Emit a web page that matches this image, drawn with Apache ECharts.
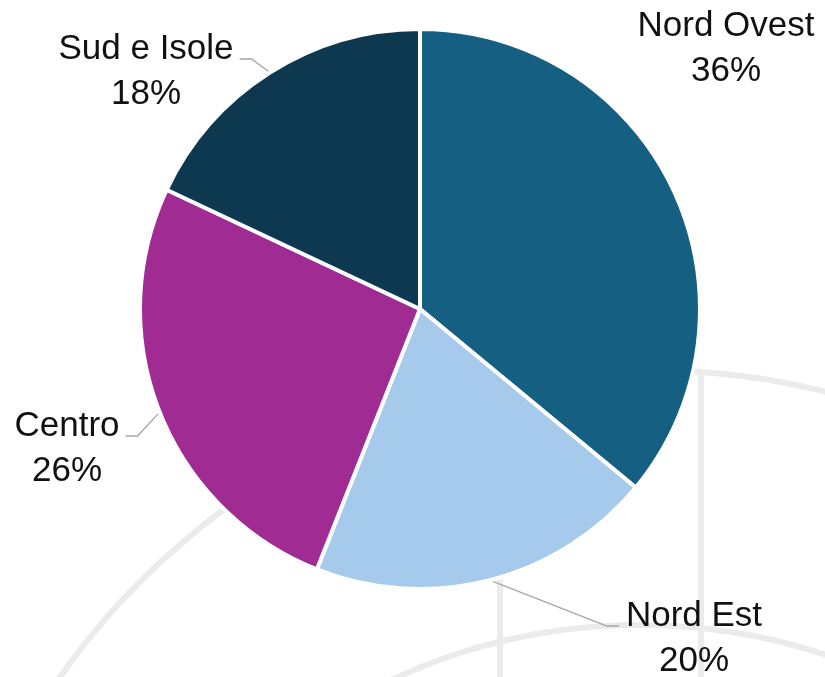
<!DOCTYPE html>
<html>
<head>
<meta charset="utf-8">
<script src="https://cdn.jsdelivr.net/npm/echarts@6/dist/echarts.min.js"></script>
<style>
  html, body { margin: 0; padding: 0; background: #fff; }
  #chart { width: 825px; height: 677px; }
</style>
</head>
<body>
<div id="chart"></div>
<script>
var categories = ['Nord Ovest', 'Nord Est', 'Centro', 'Sud e Isole'];
var shares = [36, 20, 26, 18];
var colors = ['#156082', '#a6caec', '#a02b93', '#0e384f'];

// where each label block sits: [center x, baseline of first line]
var labelSpots = [[726, 38], [694, 628], [67, 438], [146, 61]];

var wmColor = '#ebebeb';
var labelFont = '35px "Liberation Sans", Arial, sans-serif';

// width of the longest line of a label
var measureCtx = document.createElement('canvas').getContext('2d');
measureCtx.font = labelFont;
function textWidth(txt) {
  return Math.max.apply(null, txt.split('\n').map(function (s) {
    return measureCtx.measureText(s).width;
  }));
}

var myChart = echarts.init(document.getElementById('chart'));

var pieData = categories.map(function (name, i) {
  var item = { name: name, value: shares[i], itemStyle: { color: colors[i] } };
  if (i === 0) item.labelLine = { show: false }; // no leader for Nord Ovest
  return item;
});

myChart.setOption({
  animation: false,
  backgroundColor: '#fff',
  // faint logo watermark behind the pie
  graphic: [
    {
      type: 'arc', z: 0,
      shape: { cx: 650, cy: 1090, r: 720, startAngle: -Math.PI * 0.86, endAngle: -Math.PI * 0.34 },
      style: { stroke: wmColor, lineWidth: 6, fill: null }
    },
    {
      type: 'arc', z: 0,
      shape: { cx: 640, cy: 1215, r: 590, startAngle: -Math.PI * 0.66, endAngle: -Math.PI * 0.36 },
      style: { stroke: wmColor, lineWidth: 6, fill: null }
    },
    {
      type: 'line', z: 0,
      shape: { x1: 701, y1: 371, x2: 701, y2: 690 },
      style: { stroke: wmColor, lineWidth: 6 }
    },
    {
      type: 'line', z: 0,
      shape: { x1: 500, y1: 540, x2: 500, y2: 690 },
      style: { stroke: wmColor, lineWidth: 6 }
    }
  ],
  series: [
    {
      type: 'pie',
      center: [420, 309],
      radius: 280,
      startAngle: 90,
      clockwise: true,
      z: 5,
      avoidLabelOverlap: false,
      itemStyle: { borderColor: '#fff', borderWidth: 4 },
      label: {
        show: true,
        position: 'outside',
        formatter: '{b}\n{d}%',
        fontFamily: '"Liberation Sans", Arial, sans-serif',
        fontSize: 35,
        lineHeight: 45,
        color: '#111',
        overflow: 'none',
        width: 220
      },
      labelLine: {
        show: true,
        length: 15,
        length2: 12,
        lineStyle: { color: '#a6a6a6', width: 1.3 }
      },
      labelLayout: function (p) {
        var spot = labelSpots[p.dataIndex];
        var w = textWidth(p.text);
        var out = { x: spot[0], y: spot[1] - 34, align: 'center', verticalAlign: 'top' };
        var pts = p.labelLinePoints;
        if (pts && p.dataIndex !== 0) {
          var edge = pts[0];
          var ay = spot[1] - 2;
          var ax, ex;
          if (edge[0] > spot[0]) {
            ax = spot[0] + w / 2 + 6;
            ex = ax + 12;
          } else {
            ax = spot[0] - w / 2 - 7;
            ex = ax - 12;
          }
          out.labelLinePoints = [edge, [ex, ay], [ax, ay]];
        }
        return out;
      },
      data: pieData
    }
  ]
});

window.addEventListener('resize', function () { myChart.resize(); });
</script>
</body>
</html>
